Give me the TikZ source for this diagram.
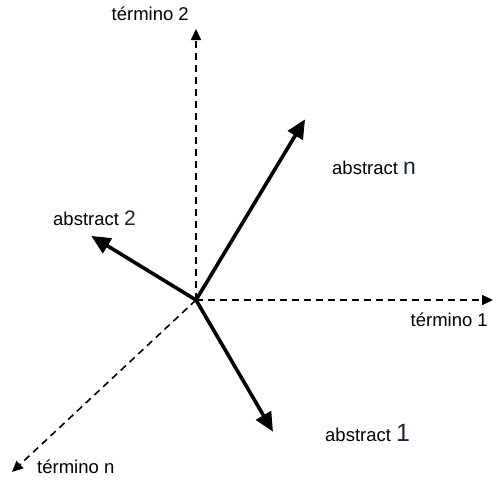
\documentclass[tikz,border=0pt]{standalone}
\usepackage{fontspec}
\setmainfont{Liberation Sans}
\usetikzlibrary{arrows.meta}
\definecolor{numcol}{HTML}{1A2438}
\tikzset{
  axisline/.style={line width=1.6pt, dash pattern=on 7pt off 5pt,
    -{Triangle[length=11pt,width=10pt]}},
  vecline/.style={line width=3.6pt,
    -{Triangle[length=19pt,width=17pt]}, shorten >=-2pt},
  lbl/.style={inner sep=0pt, font=\fontsize{18.5}{20}\selectfont},
  numA/.style={font=\fontsize{20}{22}\selectfont},
}
\newcommand{\bignum}[2]{{\fontsize{#1}{#1}\selectfont\color{numcol}#2}}
\begin{document}
\begin{tikzpicture}[x=1pt,y=-1pt]
\useasboundingbox (0,0) rectangle (496,480);
\coordinate (O) at (196,300);
\coordinate (t2) at (196,29);
\coordinate (t1) at (493,300);
\coordinate (tn) at (12,472);
\coordinate (a2) at (93,237);
\coordinate (an) at (304,121);
\coordinate (a1) at (272,430);
\draw[axisline] (O) -- (t2);
\draw[axisline] (O) -- (t1);
\draw[axisline] (O) -- (tn);
\draw[vecline] (O) -- (a2);
\draw[vecline] (O) -- (an);
\draw[vecline] (O) -- (a1);
\node[lbl, anchor=base east] (lt2) at (189,20) {término 2};
\node[lbl, anchor=base east] (lt1) at (488,326) {término 1};
\node[lbl, anchor=base west] (ltn) at (37,473) {término n};
\node[lbl, anchor=base west] (la2) at (53,225) {abstract \bignum{21}{2}};
\node[lbl, anchor=base west] (lan) at (332,174) {abstract \bignum{23}{n}};
\node[lbl, anchor=base west] (la1) at (325,441) {abstract \bignum{25}{1}};
\end{tikzpicture}
\end{document}
